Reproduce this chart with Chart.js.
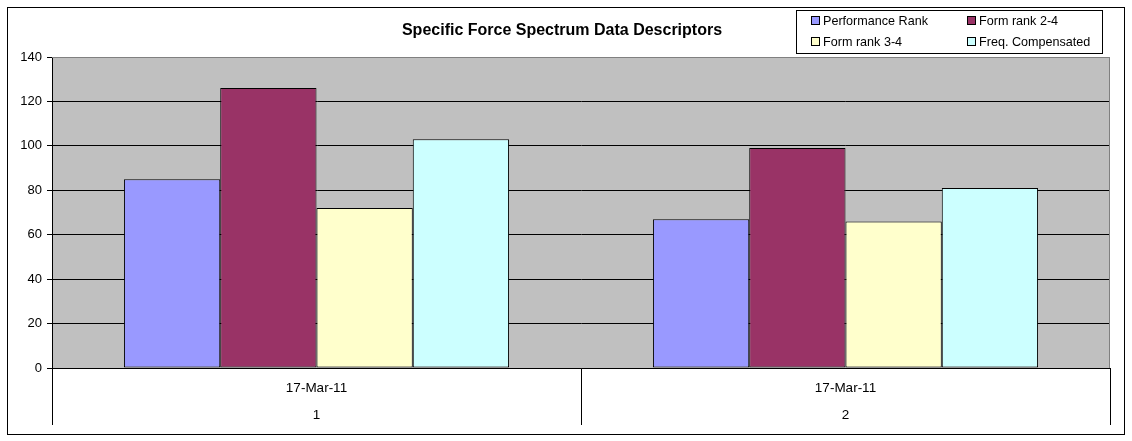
<!DOCTYPE html>
<html>
<head>
<meta charset="utf-8">
<script src="https://cdn.jsdelivr.net/npm/chart.js@4.4.1/dist/chart.umd.min.js"></script>
<style>
  html, body { margin: 0; padding: 0; background: #fff; }
  #wrap { width: 1132px; height: 441px; position: relative; }
</style>
</head>
<body>
<div id="wrap"><canvas id="grafico" width="1132" height="441"></canvas></div>
<script>
// Dados do gráfico
const titulo = 'Specific Force Spectrum Data Descriptors';
const categorias = [['17-Mar-11', '1'], ['17-Mar-11', '2']];
const nomesSeries = ['Performance Rank', 'Form rank 2-4', 'Form rank 3-4', 'Freq. Compensated'];
const performanceRank = [85, 67];
const formRank24 = [126, 99];
const formRank34 = [72, 66];
const freqCompensated = [103, 81];
const coresSeries = ['#9999FF', '#993366', '#FFFFCC', '#CCFFFF'];
const valoresY = [0, 20, 40, 60, 80, 100, 120, 140];

const fonte = "'Liberation Sans', Arial, sans-serif";

// Plugin para fundo cinza, moldura, título e legenda no estilo Excel
const estiloExcel = {
    id: 'estiloExcel',
    beforeDraw(chart) {
        const { ctx, chartArea: a } = chart;
        ctx.save();
        ctx.fillStyle = '#fff';
        ctx.fillRect(0, 0, chart.width, chart.height);
        ctx.fillStyle = '#C0C0C0';
        ctx.fillRect(a.left, a.top, a.right - a.left, a.bottom - a.top);
        ctx.restore();
    },
    afterDraw(chart) {
        const { ctx, chartArea: a } = chart;
        ctx.save();
        // borda do gráfico
        ctx.strokeStyle = '#000';
        ctx.lineWidth = 1;
        ctx.strokeRect(7.5, 7.5, 1117, 427);
        // borda da área de plotagem (topo e direita)
        ctx.strokeStyle = '#808080';
        ctx.beginPath();
        ctx.moveTo(a.left, a.top + 0.5);
        ctx.lineTo(a.right - 0.5, a.top + 0.5);
        ctx.lineTo(a.right - 0.5, a.bottom);
        ctx.stroke();

        // título
        ctx.fillStyle = '#000';
        ctx.font = 'bold 16px ' + fonte;
        ctx.textAlign = 'center';
        ctx.textBaseline = 'middle';
        ctx.fillText(titulo, 562, 31);

        // legenda
        ctx.strokeStyle = '#000';
        ctx.strokeRect(796.5, 10.5, 306, 43);
        ctx.font = '12.6px ' + fonte;
        ctx.textAlign = 'left';
        const posicoes = [[811, 21], [967, 21], [811, 42], [967, 42]];
        chart.data.datasets.forEach((ds, i) => {
            const [x, y] = posicoes[i];
            ctx.fillStyle = ds.backgroundColor;
            ctx.fillRect(x + 0.5, y - 4.5, 8, 8);
            ctx.strokeRect(x + 0.5, y - 4.5, 8, 8);
            ctx.fillStyle = '#000';
            ctx.fillText(ds.label, x + 12, y + 1);
        });
        ctx.restore();
    }
};

const dadosSeries = [performanceRank, formRank24, formRank34, freqCompensated];

const ctx = document.getElementById('grafico').getContext('2d');
new Chart(ctx, {
    type: 'bar',
    data: {
        labels: categorias,
        datasets: nomesSeries.map((nome, i) => ({
            label: nome,
            data: dadosSeries[i],
            backgroundColor: coresSeries[i],
            borderColor: '#000',
            borderWidth: 1,
            borderSkipped: false,
            categoryPercentage: 0.728,
            barPercentage: 1
        }))
    },
    options: {
        responsive: false,
        animation: false,
        devicePixelRatio: 1,
        layout: { padding: { top: 57, left: 0, right: 22, bottom: 16 } },
        plugins: {
            legend: { display: false },
            title: { display: false },
            tooltip: { enabled: false }
        },
        scales: {
            x: {
                offset: true,
                grid: {
                    display: true,
                    drawOnChartArea: false,
                    offset: true,
                    tickLength: 57,
                    color: '#000'
                },
                border: { display: true, color: '#000' },
                ticks: {
                    padding: -50,
                    color: '#000',
                    font: { family: fonte, size: 13.5, lineHeight: 2 }
                },
                afterFit(scale) { scale.height = 57; }
            },
            y: {
                min: 0,
                max: 140,
                afterBuildTicks(scale) { scale.ticks = valoresY.map(v => ({ value: v })); },
                grid: {
                    color: (c) => c.tick && c.tick.value === 140 ? '#808080' : '#000',
                    tickColor: '#000',
                    tickLength: 5
                },
                border: { display: true, color: '#000' },
                ticks: {
                    padding: 5,
                    color: '#000',
                    font: { family: fonte, size: 13 }
                },
                afterFit(scale) { scale.width = 52; }
            }
        }
    },
    plugins: [estiloExcel]
});
</script>
</body>
</html>
